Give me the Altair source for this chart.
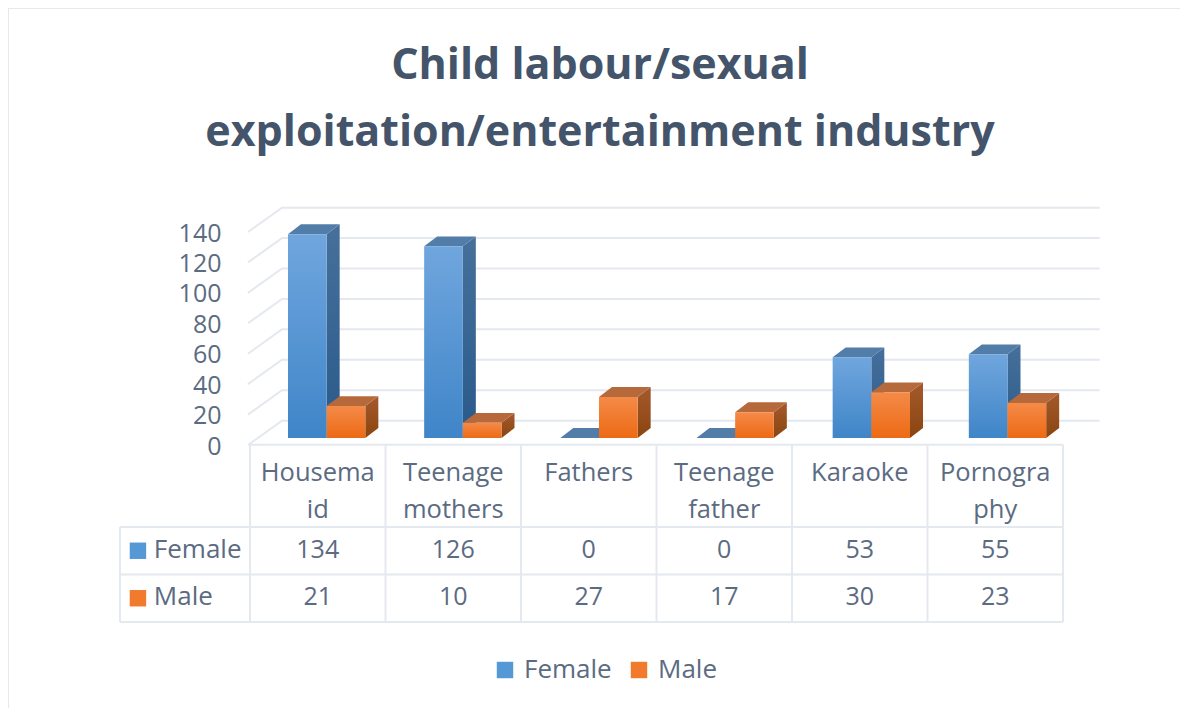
import altair as alt
import pandas as pd

categories = ["Housema\nid", "Teenage\nmothers", "Fathers", "Teenage\nfather", "Karaoke", "Pornogra\nphy"]
female = [134, 126, 0, 0, 53, 55]
male = [21, 10, 27, 17, 30, 23]
series_names = ["Female", "Male"]
y_ticks = [0, 20, 40, 60, 80, 100, 120, 140]

TXT = "#5b6b82"
LINE = "#e4e8ef"
FONT = "Open Sans"

# chart scales (3-D floor projected onto the plane)
X3 = alt.Scale(domain=[0, 6], range=[242, 1059], nice=False, zero=False)
Y3 = alt.Scale(domain=[0, 140], range=[430, 217], nice=False, zero=False)
# table scales
XT = alt.Scale(domain=[0, 6], range=[242, 1055], nice=False, zero=False)
YT = alt.Scale(domain=[0, 2], range=[614, 519], nice=False, zero=False)

BAR = 0.284
LEAD = 0.279
DX = 0.0955
DY = 6.5


def faces(values, shift):
    front, side, top = [], [], []
    for i, v in enumerate(values):
        xl = i + LEAD + shift * BAR
        xr = xl + BAR
        front.append(dict(x=xl, x2=xr, y=0, y2=v))
        for x, a, b in [(xr, 0, v), (xr + DX, DY, v + DY)]:
            side.append(dict(k=i, x=x, y=a, y2=b))
        for x, a, b in [(xl, v, v), (xl + DX, v, v + DY), (xr, v, v + DY), (xr + DX, v + DY, v + DY)]:
            top.append(dict(k=i, x=x, y=a, y2=b))
    return pd.DataFrame(front), pd.DataFrame(side), pd.DataFrame(top)


def grad(c1, c2):
    return alt.Gradient(gradient="linear", x1=0, x2=0, y1=0, y2=1,
                        stops=[alt.GradientStop(color=c1, offset=0), alt.GradientStop(color=c2, offset=1)])


def bar_layers(values, shift, front_c, side_c, top_c):
    fr, si, to = faces(values, shift)
    enc_area = dict(x=alt.X("x:Q", scale=X3, axis=None), y=alt.Y("y:Q", scale=Y3, axis=None),
                    y2="y2:Q", detail="k:N")
    return [
        alt.Chart(si).mark_area(fill=grad(*side_c)).encode(**enc_area),
        alt.Chart(to).mark_area(fill=top_c).encode(**enc_area),
        alt.Chart(fr).mark_rect(fill=grad(*front_c)).encode(
            x=alt.X("x:Q", scale=X3, axis=None), x2="x2:Q",
            y=alt.Y("y:Q", scale=Y3, axis=None), y2="y2:Q"),
    ]


grid_rows = []
for t in y_ticks:
    for x, y in [(-0.015, t - 4.6), (0.235, t + 11.4), (6.24, t + 11.4)]:
        grid_rows.append(dict(t=t, x=x, y=y))
grid = alt.Chart(pd.DataFrame(grid_rows)).mark_line(color=LINE, strokeWidth=2).encode(
    x=alt.X("x:Q", scale=X3, axis=None),
    y=alt.Y("y:Q", scale=Y3, axis=None),
    detail="t:N",
)
axis_layer = alt.Chart(pd.DataFrame({"t": y_ticks})).mark_point(opacity=0).encode(
    y=alt.Y("t:Q", scale=Y3, title=None, axis=alt.Axis(
        values=y_ticks, offset=-213, ticks=False, domain=False, grid=False, labelPadding=0,
        labelOffset=8, labelFontSize=25, labelColor=TXT, labelFont=FONT)),
    x=alt.value(0),
)

# table lines
hl = pd.DataFrame([dict(x=0, x2=6, y=3.73), dict(x=-0.96, x2=6, y=2), dict(x=-0.96, x2=6, y=1), dict(x=-0.96, x2=6, y=0)])
vl = pd.DataFrame([dict(x=float(i), y=0, y2=3.73) for i in range(7)] + [dict(x=-0.96, y=0, y2=2)])
XTe = alt.X("x:Q", scale=XT, axis=None)
YTe = alt.Y("y:Q", scale=YT, axis=None)
table_h = alt.Chart(hl).mark_rule(color=LINE, strokeWidth=2).encode(x=XTe, x2="x2:Q", y=YTe)
table_v = alt.Chart(vl).mark_rule(color=LINE, strokeWidth=2).encode(x=XTe, y=YTe, y2="y2:Q")

cat_df = pd.DataFrame({"x": [i + 0.5 for i in range(6)], "y": [3.39] * 6, "label": categories})
cat_text = alt.Chart(cat_df).mark_text(font=FONT, fontSize=25.5, color=TXT, baseline="top", lineBreak="\n", lineHeight=37).encode(
    x=XTe, y=YTe, text="label:N")

cell_rows = []
for i in range(6):
    cell_rows.append(dict(x=i + 0.5, y=1.5, label=str(female[i])))
    cell_rows.append(dict(x=i + 0.5, y=0.5, label=str(male[i])))
cell_text = alt.Chart(pd.DataFrame(cell_rows)).mark_text(font=FONT, fontSize=25, color=TXT, dy=-1).encode(
    x=XTe, y=YTe, text="label:N")

row_df = pd.DataFrame({"x": [-0.71, -0.71], "y": [1.5, 0.5], "label": series_names})
row_text = alt.Chart(row_df).mark_text(font=FONT, fontSize=26, color=TXT, align="left", dy=-1).encode(x=XTe, y=YTe, text="label:N")

swatch_df = pd.DataFrame({"x": [-0.827, -0.827], "y": [1.5, 0.5], "s": series_names})
swatch = alt.Chart(swatch_df).mark_point(shape="square", filled=True, opacity=1, size=270).encode(
    x=XTe, y=YTe,
    color=alt.Color("s:N", scale=alt.Scale(domain=series_names, range=["#5598d6", "#f27a2c"]),
                    legend=alt.Legend(title=None, orient="none", legendX=484, legendY=649, direction="horizontal",
                                      symbolType="square", symbolSize=270, symbolOpacity=1, labelFontSize=26,
                                      labelFont=FONT, labelColor=TXT, columnPadding=14, labelOffset=6)),
)

border_left = alt.Chart(pd.DataFrame({"a": [0]})).mark_rule(color=LINE, strokeWidth=2).encode(
    x=alt.value(0), y=alt.value(0), y2=alt.value(700))
border_top = alt.Chart(pd.DataFrame({"a": [0]})).mark_rule(color=LINE, strokeWidth=2).encode(
    y=alt.value(0), x=alt.value(0), x2=alt.value(1172))

layers = [border_left, border_top, grid, axis_layer]
layers += bar_layers(female, 0, ("#70a6de", "#3f85c8"), ("#47709b", "#295a8a"), "#527da8")
layers += bar_layers(male, 1, ("#f58a48", "#ec6a14"), ("#a5592c", "#8a4510"), "#b66a3c")
layers += [table_h, table_v, cat_text, cell_text, row_text, swatch]

chart = alt.layer(*layers).resolve_scale(x="independent", y="independent").properties(
    width=1172, height=700, padding=0,
    autosize=alt.AutoSizeParams(type="none"),
    title=alt.TitleParams(
        text=["Child labour/sexual", "exploitation/entertainment  industry"],
        font=FONT, fontSize=43, fontWeight="bold", color="#44546a",
        anchor="middle", frame="group", dx=6, dy=148, lineHeight=67, offset=0),
).configure_view(stroke=None)

chart.save("out.html", embed_options={"renderer": "svg", "actions": False})
